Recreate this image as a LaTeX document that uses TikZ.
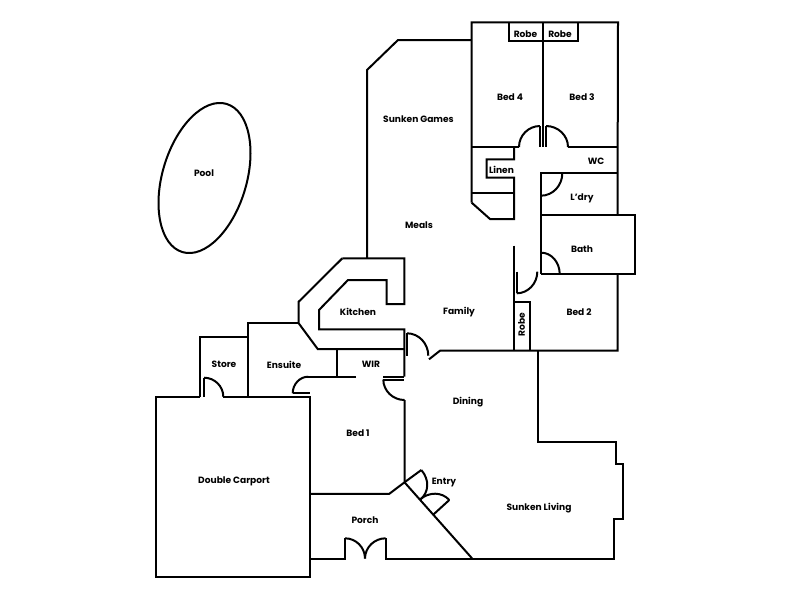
\documentclass[tikz,border=0pt]{standalone}
\usepackage{fontspec}
\setmainfont{Poppins}
\usetikzlibrary{calc}
\newcommand{\qa}[3]{#1 .. controls ($#1!.55!#2$) and ($#3!.55!#2$) .. #3}
\tikzset{
  wall/.style={draw=black,line width=2pt,line join=miter,line cap=butt},
  room/.style={font=\bfseries\fontsize{9.1}{10}\selectfont,text=black,inner sep=0pt,yshift=-0.7pt}
}
\begin{document}
\begin{tikzpicture}[x=1pt,y=-1pt]
\useasboundingbox[fill=white] (0,0) rectangle (800,600);
% Pool
\draw[wall,rotate around={-16.6:(204.5,178)}] (204.5,178) ellipse [x radius=42.1,y radius=77.3];
% Upper wing outer
\draw[wall] (367,258.3) -- (367,70) -- (398,40) -- (471.7,40);
\draw[wall] (471.7,202.7) -- (471.7,22.3) -- (618,22.3) -- (617.5,215);
\draw[wall] (508.7,22.3) -- (508.7,41.3) -- (577.7,41.3) -- (577.7,22.3);
\draw[wall] (542.7,22.3) -- (542.7,147);
\draw[wall] (540,126) -- (540,147) (546,126) -- (546,147);
\draw[wall] \qa{(540,126)}{(519,126)}{(519,147)};
\draw[wall] \qa{(546,126)}{(568,126)}{(568,147)};
\draw[wall] (471.7,147) -- (519,147) (568,147) -- (618,147);
% Linen
\draw[wall] (471.7,202.7) -- (490,219) -- (514,219) -- (514,177.7) -- (486.7,177.7) -- (486.7,159.3) -- (514,159.3) -- (514,147);
\draw[wall] (471.7,192.7) -- (514,192.7);
% WC, L'dry, Bath
\draw[wall] (618,173.3) -- (541,173.3) -- (541,274);
\draw[wall] \qa{(562.3,173.3)}{(562.3,195.7)}{(541,195.7)};
\draw[wall] (541,215) -- (635,215) -- (635,274) -- (541,274);
\draw[wall] \qa{(541.3,252.7)}{(559.7,252.7)}{(559.7,274)};
% Bed 2
\draw[wall] (617.5,274) -- (617.5,350.7) -- (440,350.7) -- (429,359.3);
\draw[wall] (513.5,245.7) -- (513.5,350.7);
\draw[wall] (513.5,301.7) -- (530.3,301.7) -- (530.3,350.7);
\draw[wall] (516.7,271.7) -- (516.7,293.3);
\draw[wall] \qa{(516.7,293.3)}{(537.3,293.3)}{(537.3,271.7)};
% Kitchen
\draw[wall] (342.3,258.3) -- (404.3,258.3) -- (404.3,304) -- (386.7,304) -- (386.7,280) -- (348,280) -- (319,310) -- (319,329.3) -- (404.3,329.3) -- (404.3,376.7);
\draw[wall] (342.3,258.3) -- (298.7,301.7) -- (298.7,323.3) -- (317.7,349) -- (404.3,349);
\draw[wall] (407,333.3) -- (407,355.7);
\draw[wall] \qa{(407,333.3)}{(428.3,333.3)}{(428.3,355.7)};
% Ensuite, Store, WIR
\draw[wall] (298.7,323.3) -- (247.7,323.3) -- (247.7,396.7);
\draw[wall] (247.7,336.7) -- (199.7,336.7) -- (199.7,396.7);
\draw[wall] (204,377.7) -- (204,396.7);
\draw[wall] \qa{(204,377.7)}{(223.3,377.7)}{(223.3,396.7)};
\draw[wall] (337.3,349) -- (337.3,376.7);
\draw[wall] (356,376.7) -- (308.3,376.7);
\draw[wall] \qa{(308.3,376.7)}{(292.7,376.7)}{(292.7,393.3)};
\draw[wall] (292.7,393.3) -- (310,393.3);
\draw[wall] (383.3,376.7) -- (404.3,376.7) (383.3,379.5) -- (404.3,379.5);
\draw[wall] \qa{(383.3,379.5)}{(383.3,400)}{(404.5,400)};
% Carport
\draw[wall] (199.7,396.7) -- (156,396.7) -- (156,577) -- (309.8,577) -- (309.8,396.7) -- (223.3,396.7);
% Bed 1, Entry, Porch
\draw[wall] (404.5,400) -- (404.5,482.3) -- (389.3,493.8) -- (309.8,493.8);
\draw[wall] (404.5,482.3) -- (472,558.3);
\draw[wall] (404.5,482.3) -- (421.3,470);
\draw[wall] \qa{(421.3,470)}{(436.6,487.3)}{(420,499.6)};
\draw[wall] \qa{(420,499.6)}{(436,485)}{(449.3,500)};
\draw[wall] (449.3,500) -- (433.3,514.6);
\draw[wall] (309.8,558.5) -- (345,558.5) -- (345,538.3);
\draw[wall] \qa{(345,538.3)}{(365,538.3)}{(365,558.5)};
\draw[wall] \qa{(385.7,538.3)}{(365,538.3)}{(365,558.5)};
\draw[wall] (385.7,538.3) -- (385.7,558.5) -- (614.3,558.5) -- (614.3,519.3) -- (622.7,519.3) -- (622.7,464) -- (615.7,464) -- (615.7,442.3) -- (537.5,442.3) -- (537.5,350.7);
% Labels
\node[room] (pool) at (204,172) {Pool};
\node[room] (games) at (418.5,118.5) {Sunken Games};
\node[room] (bedfour) at (510,96) {Bed 4};
\node[room] (bedthree) at (582,96) {Bed 3};
\node[room] (robeone) at (525.5,33) {Robe};
\node[room] (robetwo) at (560,33) {Robe};
\node[room] (linen) at (501.5,169) {Linen};
\node[room] (wc) at (596,161) {WC};
\node[room] (ldry) at (582,198) {L’dry};
\node[room] (meals) at (419,224) {Meals};
\node[room] (bath) at (582,248) {Bath};
\node[room] (kitchen) at (358,311) {Kitchen};
\node[room] (family) at (459,311) {Family};
\node[room] (bedtwo) at (579,311) {Bed 2};
\node[room,rotate=90] (robethree) at (521.5,324) {Robe};
\node[room] (store) at (224,364) {Store};
\node[room] (ensuite) at (284,364) {Ensuite};
\node[room] (wir) at (371,364) {WIR};
\node[room] (dining) at (468,401) {Dining};
\node[room] (bedone) at (358,432) {Bed 1};
\node[room] (entry) at (444,482) {Entry};
\node[room] (carport) at (234,481) {Double Carport};
\node[room] (living) at (539,507) {Sunken Living};
\node[room] (porch) at (365,519) {Porch};
\end{tikzpicture}
\end{document}
